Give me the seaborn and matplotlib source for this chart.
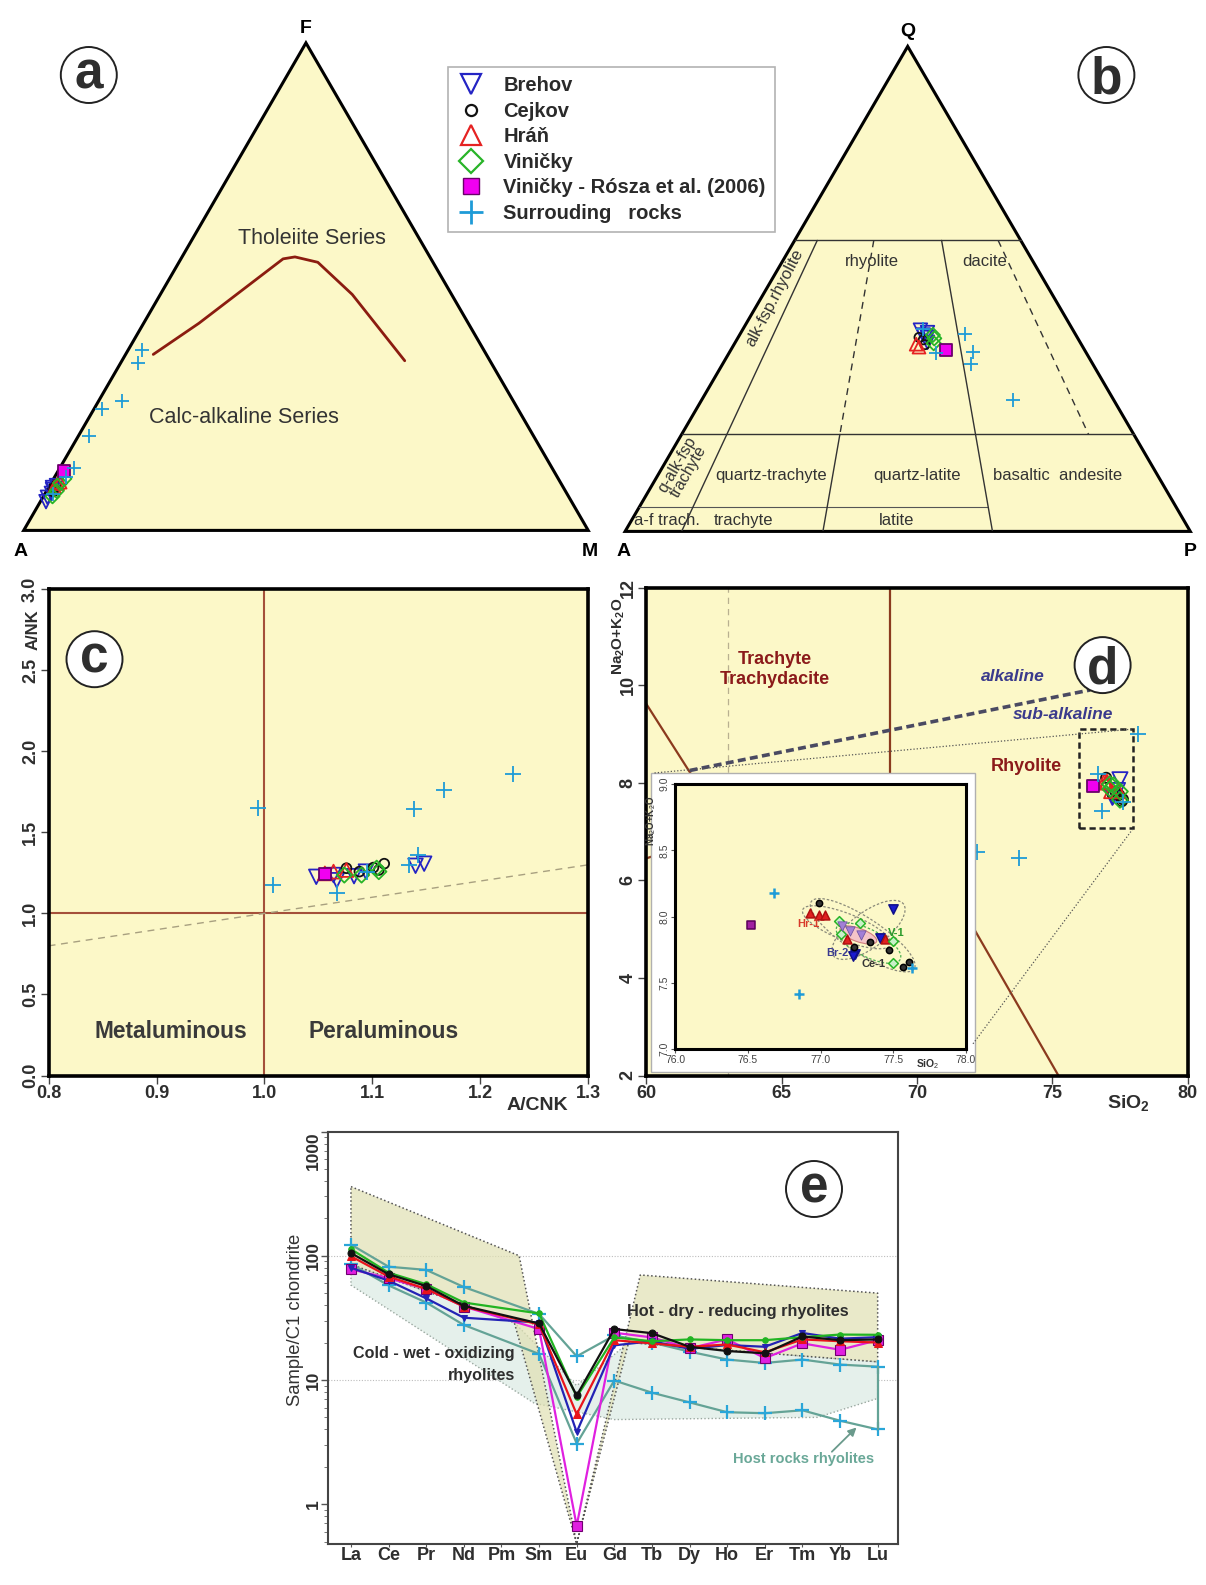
import numpy as np
import matplotlib
matplotlib.use("Agg")
import matplotlib.pyplot as plt
import matplotlib.font_manager as fm
from matplotlib.patches import Polygon, Rectangle, Ellipse
from matplotlib.lines import Line2D
from matplotlib.ticker import LogLocator, NullFormatter, FixedLocator
import seaborn as sns

# ------------------------------------------------------------------ data
groups = ["Brehov", "Cejkov", "Hráň", "Viničky", "Rósza", "Surr"]
legend_labels = ["Brehov", "Cejkov", "Hráň", "Viničky",
                 "Viničky - Rósza et al. (2006)", "Surrouding   rocks"]

# (a) AFM diagram, % : F = FeOt, M = MgO, A = remainder
afm_F = {"Brehov": [5.9, 6.8, 7.6, 8.4, 8.8, 9.2],
         "Cejkov": [7.9, 8.7, 9.4],
         "Hráň": [8.9, 9.6, 9.9],
         "Viničky": [7.0, 8.1, 9.7, 10.6],
         "Rósza": [12.1],
         "Surr": [37.0, 34.4, 26.5, 24.9, 19.3, 12.9, 11.0, 7.5]}
afm_M = {"Brehov": [1.0, 0.8, 1.1, 0.9, 0.7, 1.2],
         "Cejkov": [1.3, 1.0, 1.1],
         "Hráň": [1.0, 1.2, 1.5],
         "Viničky": [1.6, 1.8, 1.6, 1.9],
         "Rósza": [1.1],
         "Surr": [2.5, 3.1, 4.2, 1.4, 1.9, 2.4, 2.0, 1.4]}
tholeiite_F = [36.1, 42.5, 55.7, 56.1, 55.0, 48.4, 34.8]
tholeiite_M = [4.9, 9.8, 18.1, 20.0, 24.6, 34.0, 50.1]

# (b) QAP diagram, % : Q = quartz, P = plagioclase, A = remainder
qap_Q = {"Brehov": [41.5, 40.5, 40.0, 39.0, 41.0],
         "Cejkov": [40.0, 39.5, 38.5],
         "Hráň": [38.0, 38.6],
         "Viničky": [39.8, 38.8, 40.5],
         "Rósza": [37.3],
         "Surr": [41.8, 40.7, 36.9, 34.5, 27.1, 36.7]}
qap_P = {"Brehov": [31.5, 32.5, 33.5, 34.0, 33.0],
         "Cejkov": [32.0, 33.0, 33.8],
         "Hráň": [33.0, 32.2],
         "Viničky": [34.8, 35.2, 34.2],
         "Rósza": [38.2],
         "Surr": [31.8, 39.8, 43.1, 44.0, 55.1, 36.7]}
qap_q_levels = [60, 20]                    # full-width field boundaries
qap_q5_limit = 0.65                        # Q = 5 line ends at this P/(A+P)
# P/(A+P) ratio lines: (ratio, Q from, Q to, dashed?)
qap_ratio_lines = [(0.10, 60, 0, False), (0.35, 60, 20, True),
                   (0.35, 20, 0, False), (0.65, 60, 0, False),
                   (0.90, 60, 20, True)]

# (c) A/CNK vs A/NK
acnk = {"Brehov": [1.048, 1.064, 1.067, 1.083, 1.094, 1.140, 1.148],
        "Cejkov": [1.076, 1.088, 1.101, 1.106, 1.111],
        "Hráň": [1.056, 1.064, 1.076],
        "Viničky": [1.074, 1.090, 1.104, 1.106],
        "Rósza": [1.056],
        "Surr": [0.994, 1.008, 1.067, 1.095, 1.134, 1.139, 1.142, 1.166, 1.230]}
ank = {"Brehov": [1.226, 1.237, 1.205, 1.230, 1.258, 1.294, 1.307],
       "Cejkov": [1.279, 1.258, 1.283, 1.268, 1.307],
       "Hráň": [1.247, 1.258, 1.268],
       "Viničky": [1.237, 1.237, 1.279, 1.258],
       "Rósza": [1.243],
       "Surr": [1.651, 1.177, 1.124, 1.258, 1.300, 1.647, 1.358, 1.761, 1.859]}

# (d) TAS, SiO2 vs Na2O+K2O (wt.%)
tas_si = {"Brehov": [77.50, 77.41, 77.24, 77.22],
          "Cejkov": [76.99, 77.23, 77.34, 77.47, 77.57, 77.61],
          "Hráň": [76.93, 76.99, 77.03, 77.18, 77.44],
          "Viničky": [77.13, 77.27, 77.14, 77.50, 77.50],
          "Rósza": [76.52],
          "Surr": [78.17, 76.68, 76.85, 77.63, 73.76, 72.21]}
tas_alk = {"Brehov": [8.06, 7.84, 7.72, 7.70],
           "Cejkov": [8.10, 7.77, 7.81, 7.75, 7.62, 7.66],
           "Hráň": [8.03, 8.01, 8.01, 7.83, 7.83],
           "Viničky": [7.97, 7.95, 7.87, 7.82, 7.65],
           "Rósza": [7.94],
           "Surr": [8.99, 8.18, 7.42, 7.61, 6.46, 6.58]}
tas_mean_si = [77.15, 77.20, 77.28]
tas_mean_alk = [7.93, 7.89, 7.86]
tas_boundaries = [[(57.6, 11.7), (63.0, 7.0)], [(57.0, 5.9), (63.0, 7.0)],
                  [(63.0, 7.0), (69.0, 8.0)], [(69.0, 8.0), (69.0, 13.0)],
                  [(69.0, 8.0), (77.3, 0.0)]]
alk_line_si = [61.6, 76.4]
alk_line_tot = [8.25, 9.90]
zoom_box = (76.0, 7.07, 78.0, 9.1)        # x0, y0, x1, y1
# group ellipses in the detail plot: cx, cy, width, height, angle, colour
group_ellipses = [(77.29, 7.86, 0.87, 0.26, -36, "#8a8a7a"),
                  (77.18, 7.92, 0.66, 0.20, -24, "#8a8a7a"),
                  (77.33, 7.90, 0.62, 0.26, 40, "#8a8a7a"),
                  (77.33, 7.80, 0.50, 0.20, -30, "#4caf50")]
group_tags = [("Hr-1", 76.92, 7.945, "#d83a2a"), ("Br-2", 77.116, 7.724, "#3a3a90"),
              ("Ce-1", 77.363, 7.643, "#333333"), ("V-1", 77.519, 7.879, "#2a9a2a")]

# (e) chondrite-normalised REE
ree = ["La", "Ce", "Pr", "Nd", "Pm", "Sm", "Eu", "Gd", "Tb", "Dy", "Ho", "Er", "Tm", "Yb", "Lu"]
ree_measured = ["La", "Ce", "Pr", "Nd", "Sm", "Eu", "Gd", "Tb", "Dy", "Ho", "Er", "Tm", "Yb", "Lu"]
ree_cejkov = [105, 71, 57, 39.5, 28.5, 7.5, 25.7, 23.8, 18.5, 17.1, 16.4, 22.4, 20.9, 21.2]
ree_hran = [99, 68, 54, 39, 28, 5.3, 20.9, 19.7, 18.5, 19.3, 16.7, 21.2, 20.5, 20.0]
ree_vinicky = [113, 73, 59, 42, 34.3, 7.3, 22.0, 20.5, 21.2, 20.9, 20.9, 22.1, 23.2, 23.1]
ree_brehov = [80, 63, 45.4, 31.7, 29, 3.8, 19.0, 20.5, 17.8, 19.1, 18.5, 23.9, 21.5, 22.1]
ree_rosza = [77.8, 66, 54, 39, 25.7, 0.67, 24, 22, 18, 21.2, 15, 19.7, 17.5, 20.9]
ree_host_a = [123, 81.6, 76.9, 56, 34, 15.5, 22.8, 20, 16.9, 14.6, 13.7, 14.6, 13.3, 12.8]
ree_host_b = [86, 57.7, 42, 27.7, 16.2, 3.08, 9.9, 7.9, 6.6, 5.5, 5.4, 5.7, 4.7, 4.0]
hot_field_x = [0, 4.47, 6.0, 7.69, 14, 14, 7.38, 6.0, 4.34, 0]
hot_field_y = [360, 100, 0.48, 70, 50, 14, 20, 0.48, 29, 85]
cold_field_x = [0, 4.34, 6.0, 7.38, 14, 14, 12.4, 7.0, 4.87, 0]
cold_field_y = [85, 29, 9, 20, 14, 7.1, 5.0, 4.8, 6.5, 58]

# ------------------------------------------------------------------ style
sns.set_theme(style="white")


def has_font(name):
    try:
        fm.findfont(fm.FontProperties(family=name), fallback_to_default=False)
        return True
    except Exception:
        return False


NARROW = "Liberation Sans Narrow" if has_font("Liberation Sans Narrow") else "Liberation Sans"
NSCALE = 1 / 0.82 if NARROW != "Liberation Sans" else 1.0

plt.rcParams["font.family"] = ["Liberation Sans", "DejaVu Sans"]
plt.rcParams["mathtext.fontset"] = "custom"
plt.rcParams["mathtext.rm"] = "Liberation Sans"
plt.rcParams["mathtext.bf"] = "Liberation Sans:bold"
plt.rcParams["mathtext.it"] = "Liberation Sans:italic"

YELLOW = "#fcf8c8"
TXT = "#2e2e2e"
STYLE = {"Brehov": dict(marker="v", color="#2424c4"),
         "Cejkov": dict(marker="o", color="#111111"),
         "Hráň": dict(marker="^", color="#e52222"),
         "Viničky": dict(marker="D", color="#28b428"),
         "Rósza": dict(marker="s", color="#f000f0"),
         "Surr": dict(marker="+", color="#1e9bd7")}
SIZES = {"Brehov": 1.0, "Cejkov": 0.45, "Hráň": 0.9, "Viničky": 0.55, "Rósza": 0.7, "Surr": 1.2}

W, H = 1206, 1585
fig = plt.figure(figsize=(W / 100, H / 100), dpi=100)
fig.patch.set_facecolor("white")


def box(l, t, r, b):
    return [l / W, 1 - b / H, (r - l) / W, (b - t) / H]


def tern(top, right):
    top = np.asarray(top, float) / 100
    right = np.asarray(right, float) / 100
    return right + top / 2, top


def scatter_group(ax, x, y, g, base, lw=1.3, filled=False, z=5, color=None, edge=None):
    st = STYLE[g]
    col = color or st["color"]
    sns.scatterplot(x=np.asarray(x, float), y=np.asarray(y, float), ax=ax,
                    marker=st["marker"], s=base * SIZES[g], color=col,
                    legend=False, zorder=z)
    coll = ax.collections[-1]
    if st["marker"] == "+":
        coll.set_edgecolor(col)
        coll.set_facecolor(col)
    elif filled or g == "Rósza":
        coll.set_facecolor(col)
        coll.set_edgecolor(edge or ("#6a006a" if g == "Rósza" else col))
    else:
        coll.set_facecolor("none")
        coll.set_edgecolor(col)
    coll.set_linewidth(lw)


def circle_label(cx, cy, letter, r=28, size=37, asc=False):
    fig.add_artist(Ellipse((cx / W, 1 - cy / H), 2 * r / W, 2 * r / H,
                           transform=fig.transFigure, fc="white", ec="#222222",
                           lw=1.4, zorder=20))
    em = size * 100 / 72
    off = 0.36 if asc else 0.265
    fig.text(cx / W, 1 - (cy + off * em) / H, letter, ha="center", va="baseline",
             fontsize=size, fontweight="bold", color=TXT, zorder=21)


# ------------------------------------------------------------------ (a) AFM
ax_a = fig.add_axes(box(23.7, 42.9, 588.2, 530.4))
ax_a.set_xlim(0, 1)
ax_a.set_ylim(0, 1)
ax_a.axis("off")
ax_a.add_patch(Polygon([(0, 0), (1, 0), (0.5, 1)], closed=True, fc=YELLOW,
                       ec="black", lw=2.2, zorder=1, clip_on=False))
tx, ty = tern(tholeiite_F, tholeiite_M)
sns.lineplot(x=tx, y=ty, ax=ax_a, color="#8b1c10", lw=2.0, sort=False,
             estimator=None, zorder=3, legend=False)
for g in groups:
    X, Y = tern(afm_F[g], afm_M[g])
    scatter_group(ax_a, X, Y, g, base=95)
ax_a.text(0.5, 1.03, "F", ha="center", va="center", fontsize=14, fontweight="bold", color="black")
ax_a.text(-0.005, -0.044, "A", ha="center", va="center", fontsize=14, fontweight="bold", color="black")
ax_a.text(1.002, -0.044, "M", ha="center", va="center", fontsize=14, fontweight="bold", color="black")
ax_a.text(0.5105, 0.5986, "Tholeiite Series", ha="center", va="center", fontsize=15.5, color="#333333")
ax_a.text(0.39, 0.2308, "Calc-alkaline Series", ha="center", va="center", fontsize=15.5, color="#333333")

# ------------------------------------------------------------------ (b) QAP
ax_b = fig.add_axes(box(625.1, 46.4, 1190.3, 531.4))
ax_b.set_xlim(0, 1)
ax_b.set_ylim(0, 1)
ax_b.axis("off")
ax_b.add_patch(Polygon([(0, 0), (1, 0), (0.5, 1)], closed=True, fc=YELLOW,
                       ec="black", lw=2.2, zorder=1, clip_on=False))
for q in qap_q_levels:
    X, Y = tern([q, q], [0, 100 - q])
    ax_b.plot(X, Y, color="#333333", lw=1.0, zorder=2)
X, Y = tern([5, 5], [0, 95 * qap_q5_limit])
ax_b.plot(X, Y, color="#555555", lw=0.8, zorder=2)
for r, q1, q2, dashed in qap_ratio_lines:
    qs = np.array([q1, q2], float)
    X, Y = tern(qs, (100 - qs) * r)
    ax_b.plot(X, Y, color="#333333", lw=1.0, ls=(0, (5, 4)) if dashed else "-", zorder=2)
for g in groups:
    X, Y = tern(qap_Q[g], qap_P[g])
    scatter_group(ax_b, X, Y, g, base=95)
ax_b.text(0.5, 1.03, "Q", ha="center", va="center", fontsize=14, fontweight="bold", color="black")
ax_b.text(-0.002, -0.042, "A", ha="center", va="center", fontsize=14, fontweight="bold", color="black")
ax_b.text(1.0, -0.042, "P", ha="center", va="center", fontsize=14, fontweight="bold", color="black")
for s, x, y, rot in [("rhyolite", 0.4358, 0.5567, 0), ("dacite", 0.636, 0.5567, 0),
                     ("alk-fsp.rhyolite", 0.2647, 0.4808, 62.5),
                     ("quartz-trachyte", 0.258, 0.1148, 0), ("quartz-latite", 0.5165, 0.1148, 0),
                     ("basaltic  andesite", 0.766, 0.1148, 0), ("a-f trach.", 0.0745, 0.022, 0),
                     ("trachyte", 0.2086, 0.022, 0), ("latite", 0.4809, 0.022, 0)]:
    ax_b.text(x, y, s, ha="center", va="center", rotation=rot, fontsize=12, color="#333333", zorder=3)
ax_b.text(0.1026, 0.1309, "q-alk-fsp\ntrachyte", ha="center", va="center", rotation=60,
          fontsize=11.5, color="#333333", linespacing=0.85, zorder=3)

# ------------------------------------------------------------------ legend
LFS = 14.5 * NSCALE
lpx = LFS * 100 / 72
handles = []
for g in groups:
    st = STYLE[g]
    if st["marker"] == "+":
        h = Line2D([], [], ls="none", marker="+", markersize=17, mew=2.0, color=st["color"])
    elif g == "Rósza":
        h = Line2D([], [], ls="none", marker="s", markersize=12, mfc=st["color"], mec="#6a006a", mew=1.0)
    else:
        ms = {"Brehov": 14, "Cejkov": 8, "Hráň": 14, "Viničky": 12}[g]
        h = Line2D([], [], ls="none", marker=st["marker"], markersize=ms, mfc="none",
                   mec=st["color"], mew=1.6)
    handles.append(h)


def make_legend(spacing, pad):
    lg = fig.legend(handles, legend_labels, loc="upper left",
                    bbox_to_anchor=(448 / W, 1 - 67 / H), bbox_transform=fig.transFigure,
                    prop=fm.FontProperties(family=NARROW, weight="bold", size=LFS),
                    labelcolor="#2a2a2a", frameon=True, fancybox=False, edgecolor="#a0a0a0",
                    borderpad=pad, handlelength=29.0 / lpx, handletextpad=17.5 / lpx,
                    labelspacing=spacing, borderaxespad=0)
    lg.get_frame().set_linewidth(1.2)
    return lg


# rows 25.6 px apart, first row centred 18.5 px below the frame top
pad0 = 7.0 / lpx
leg = make_legend(0.0, pad0)
fig.canvas.draw()
rend = fig.canvas.get_renderer()
ext = [t.get_window_extent(rend) for t in leg.get_texts()]
pitch = ((ext[0].y0 + ext[0].y1) - (ext[-1].y0 + ext[-1].y1)) / 2 / (len(ext) - 1)
spacing = max(0.0, (25.6 - pitch) / lpx)
top_off = leg.get_window_extent(rend).y1 - (ext[0].y0 + ext[0].y1) / 2
pad1 = max(0.05, pad0 + (18.5 - top_off) / lpx)
leg.remove()
leg = make_legend(spacing, pad1)

# ------------------------------------------------------------------ (c) Shand
ax_c = fig.add_axes(box(48.6, 589.3, 588.2, 1075.5))
ax_c.set_facecolor(YELLOW)
ax_c.set_xlim(0.8, 1.3)
ax_c.set_ylim(0, 3.0)
ax_c.axvline(1.0, color="#a4503a", lw=1.5, zorder=2)
ax_c.axhline(1.0, color="#a4503a", lw=1.5, zorder=2)
ax_c.plot([0.8, 1.3], [0.8, 1.3], color="#a8a080", lw=1.0, ls=(0, (5, 4)), zorder=2)
for g in groups:
    scatter_group(ax_c, acnk[g], ank[g], g, base=110)
ax_c.text(0.9128, 0.27, "Metaluminous", ha="center", va="center", fontsize=16.4,
          fontweight="bold", color="#3a3a3a")
ax_c.text(1.1107, 0.27, "Peraluminous", ha="center", va="center", fontsize=16.4,
          fontweight="bold", color="#3a3a3a")
ax_c.set_xticks([0.8, 0.9, 1.0, 1.1, 1.2, 1.3])
ax_c.set_xticklabels(["0.8", "0.9", "1.0", "1.1", "1.2", "1.3"])
ax_c.set_yticks([0, 0.5, 1.0, 1.5, 2.0, 2.5, 3.0])
ax_c.set_yticklabels(["0.0", "0.5", "1.0", "1.5", "2.0", "2.5", "3.0"], rotation=90, va="center")
for sp in ax_c.spines.values():
    sp.set_color("black")
    sp.set_linewidth(2.6)
ax_c.tick_params(axis="both", which="major", direction="out", length=6, width=1.0,
                 color="#444444", labelsize=13, labelcolor=TXT, pad=1,
                 bottom=True, left=True)
for lab in ax_c.get_xticklabels() + ax_c.get_yticklabels():
    lab.set_fontweight("bold")
fig.text(33 / W, 1 - 630 / H, "A/NK", rotation=90, ha="center", va="center",
         fontsize=12, fontweight="bold", color=TXT)
fig.text(537.7 / W, 1 - 1105 / H, "A/CNK", ha="center", va="center",
         fontsize=14, fontweight="bold", color=TXT)

# ------------------------------------------------------------------ (d) TAS
ax_d = fig.add_axes(box(646.4, 587.5, 1187.6, 1075.5))
ax_d.set_facecolor(YELLOW)
ax_d.set_xlim(60, 80)
ax_d.set_ylim(2, 12)
ax_d.axvline(63.0, color="#b8b090", lw=0.9, ls=(0, (5, 4)), zorder=1)
for seg in tas_boundaries:
    (x0, y0), (x1, y1) = seg
    ax_d.plot([x0, x1], [y0, y1], color="#8b3a1e", lw=1.6, zorder=2)
ax_d.plot(alk_line_si, alk_line_tot, color="#4a4a62", lw=2.6, ls=(0, (2.2, 1.2)), zorder=3)
zx0, zy0, zx1, zy1 = zoom_box
ax_d.add_patch(Rectangle((zx0, zy0), zx1 - zx0, zy1 - zy0, fc="none", ec="#222222",
                         lw=1.8, ls=(0, (2.5, 1.5)), zorder=4))
for g in groups:
    scatter_group(ax_d, tas_si[g], tas_alk[g], g, base=120)
ax_d.text(64.74, 10.52, "Trachyte", ha="center", va="center", fontsize=13,
          fontweight="bold", color="#8b1a1a")
ax_d.text(64.74, 10.12, "Trachydacite", ha="center", va="center", fontsize=13,
          fontweight="bold", color="#8b1a1a")
ax_d.text(74.04, 8.33, "Rhyolite", ha="center", va="center", fontsize=13,
          fontweight="bold", color="#8b1a1a")
ax_d.text(73.54, 10.17, "alkaline", ha="center", va="center", fontsize=12.5,
          fontweight="bold", fontstyle="italic", color="#3a3a8c")
ax_d.text(75.39, 9.39, "sub-alkaline", ha="center", va="center", fontsize=12.5,
          fontweight="bold", fontstyle="italic", color="#3a3a8c")
# white panel holding the detail plot
ax_d.add_patch(Rectangle((60.17, 2.08), 11.97, 6.11, fc="white", ec="#b0b0b0", lw=1.0, zorder=8))
for (xa, ya), (xb, yb) in [((60.3, 8.2), (zx1, zy1)), ((72.07, 2.65), (zx1, zy0))]:
    ax_d.plot([xa, xb], [ya, yb], color="#555555", lw=0.9, ls=(0, (1, 1.6)), zorder=9)
ax_d.set_xticks([60, 65, 70, 75, 80])
ax_d.set_xticklabels(["60", "65", "70", "75", "80"])
ax_d.set_yticks([2, 4, 6, 8, 10, 12])
ax_d.set_yticklabels(["2", "4", "6", "8", "10", "12"], rotation=90, va="center")
for sp in ax_d.spines.values():
    sp.set_color("black")
    sp.set_linewidth(2.6)
ax_d.tick_params(axis="both", which="major", direction="out", length=6, width=1.0,
                 color="#444444", labelsize=13, labelcolor=TXT, pad=1,
                 bottom=True, left=True)
for lab in ax_d.get_xticklabels() + ax_d.get_yticklabels():
    lab.set_fontweight("bold")
fig.text(619 / W, 1 - 636 / H, r"Na$_{\mathbf{2}}$O+K$_{\mathbf{2}}$O", rotation=90,
         ha="center", va="center", fontsize=11, fontweight="bold", color=TXT)
fig.text(1128 / W, 1 - 1103 / H, r"SiO$_{\mathbf{2}}$", ha="center", va="center",
         fontsize=14, fontweight="bold", color=TXT)

# detail of the rhyolite cluster
ax_in = fig.add_axes(box(675, 784, 966, 1049.3))
ax_in.set_zorder(ax_d.get_zorder() + 1)
ax_in.set_facecolor(YELLOW)
ax_in.set_xlim(76, 78)
ax_in.set_ylim(7, 9)
ax_in.add_patch(Ellipse((77.26, 7.862), 0.27, 0.10, angle=-22, fc="#f4c4c8", ec="#d08080",
                        lw=0.8, zorder=2))
for cx, cy, w_, h_, ang, col in group_ellipses:
    ax_in.add_patch(Ellipse((cx, cy), w_, h_, angle=ang, fc="none", ec=col, lw=0.9,
                            ls=(0, (2, 1.5)), zorder=3))
inset_fill = {"Brehov": "#1a1ad0", "Cejkov": "#333333", "Hráň": "#e02020",
              "Viničky": "#c8f0c8", "Rósza": "#a020a0", "Surr": "#1e9bd7"}
inset_edge = {"Brehov": "#10108a", "Cejkov": "#000000", "Hráň": "#b01010",
              "Viničky": "#28b428", "Rósza": "#5a005a", "Surr": "#1e9bd7"}
for g in groups:
    scatter_group(ax_in, tas_si[g], tas_alk[g], g, base=45, lw=1.1 if g != "Surr" else 1.8,
                  filled=True, color=inset_fill[g], edge=inset_edge[g], z=5)
sns.scatterplot(x=tas_mean_si, y=tas_mean_alk, ax=ax_in, marker="v", s=45, color="#a27fd6",
                legend=False, zorder=6)
ax_in.collections[-1].set_edgecolor("#6a4fa0")
for s, x, y, col in group_tags:
    ax_in.text(x, y, s, ha="center", va="center", fontsize=8, fontweight="bold", color=col, zorder=7)
ax_in.set_xticks([76.0, 76.5, 77.0, 77.5, 78.0])
ax_in.set_xticklabels(["76.0", "76.5", "77.0", "77.5", "78.0"])
ax_in.set_yticks([7.0, 7.5, 8.0, 8.5, 9.0])
ax_in.set_yticklabels(["7.0", "7.5", "8.0", "8.5", "9.0"], rotation=90, va="center")
for sp in ax_in.spines.values():
    sp.set_color("black")
    sp.set_linewidth(2.2)
ax_in.tick_params(axis="both", direction="out", length=3, width=0.8, color="#555555",
                  labelsize=7.5, labelcolor="#444444", pad=1, bottom=True, left=True)
ax_in.text(0.869, -0.055, r"SiO$_2$", transform=ax_in.transAxes, ha="center", va="center",
           fontsize=7.5, fontweight="bold", color="#333333")
ax_in.text(-0.082, 0.86, r"Na$_2$O+K$_2$O", transform=ax_in.transAxes, rotation=90,
           ha="center", va="center", fontsize=7, fontweight="bold", color="#333333")

# ------------------------------------------------------------------ (e) REE
ax_e = fig.add_axes(box(328.4, 1131.5, 897.6, 1543.8))
ax_e.set_facecolor("white")
ax_e.set_yscale("log")
ax_e.set_xlim(-0.6, 14.53)
ax_e.set_ylim(0.48, 1000)
ree_pos = [ree.index(e) for e in ree_measured]
for yv in (10, 100):
    ax_e.axhline(yv, color="#bdbdbd", lw=0.8, ls=(0, (1, 1.5)), zorder=0.5)
ax_e.fill(cold_field_x, cold_field_y, fc="#e5f0eb", ec="#9aa8a0", lw=1.0,
          ls=(0, (1, 1.6)), zorder=1)
ax_e.fill(hot_field_x, hot_field_y, fc="#e0e0b2", alpha=0.7, ec="none", zorder=1.2)
ax_e.plot(hot_field_x + hot_field_x[:1], hot_field_y + hot_field_y[:1], color="#555555",
          lw=1.1, ls=(0, (1, 1.6)), zorder=1.3)


def ree_line(vals, color, lw=1.6, z=4, **mk):
    sns.lineplot(x=ree_pos, y=vals, ax=ax_e, color=color, lw=lw, zorder=z,
                 legend=False, estimator=None, **mk)


host_mk = dict(marker="+", markersize=10, mew=1.6, mec="#2aa6d8", mfc="#2aa6d8")
ree_line(ree_host_b, "#64a396", **host_mk)
ree_line(ree_host_a, "#64a396", **host_mk)
ax_e.plot([ree_pos[-1], ree_pos[-1]], [ree_host_b[-1], ree_host_a[-1]], color="#64a396",
          lw=1.6, zorder=4)
ree_line(ree_rosza, "#e020e0", z=5, marker="s", markersize=7, mfc="#e020e0", mec="#700070", mew=0.8)
ree_line(ree_brehov, "#2323b5", z=6, marker="v", markersize=4, mfc="#2323b5", mec="#2323b5")
ree_line(ree_hran, "#e8141b", z=7, marker="^", markersize=6, mfc="#e8141b", mec="#e8141b")
ree_line(ree_vinicky, "#22b422", z=8, marker="o", markersize=4, mfc="#22b422", mec="#22b422")
ree_line(ree_cejkov, "#111111", z=9, marker="o", markersize=5, mfc="#111111", mec="#111111")

ax_e.text(7.34, 35.7, "Hot - dry - reducing rhyolites", ha="left", va="center",
          fontsize=11.7 * NSCALE, fontweight="bold", family=NARROW, color="#2e2e2e", zorder=10)
ax_e.text(4.36, 16.4, "Cold - wet - oxidizing", ha="right", va="center",
          fontsize=11.6 * NSCALE, fontweight="bold", family=NARROW, color="#2e2e2e", zorder=10)
ax_e.text(4.36, 10.8, "rhyolites", ha="right", va="center",
          fontsize=11.6 * NSCALE, fontweight="bold", family=NARROW, color="#2e2e2e", zorder=10)
ax_e.text(12.03, 2.32, "Host rocks rhyolites", ha="center", va="center",
          fontsize=10.5 * NSCALE, fontweight="bold", family=NARROW, color="#6aa898", zorder=10)
ax_e.annotate("", xy=(13.49, 4.3), xytext=(12.73, 2.55),
              arrowprops=dict(arrowstyle="-|>", color="#6a9a8c", lw=1.3, mutation_scale=12),
              zorder=10)

ax_e.set_xticks(range(len(ree)))
ax_e.set_xticklabels(ree)
ax_e.yaxis.set_major_locator(FixedLocator([1, 10, 100, 1000]))
ax_e.yaxis.set_minor_locator(LogLocator(base=10, subs=np.arange(2, 10)))
ax_e.yaxis.set_minor_formatter(NullFormatter())
ax_e.set_yticklabels(["1", "10", "100", "1000"], rotation=90, va="center")
ax_e.get_yticklabels()[-1].set_va("top")
for sp in ax_e.spines.values():
    sp.set_color("#444444")
    sp.set_linewidth(1.5)
ax_e.tick_params(axis="y", which="major", direction="out", length=5, width=1.0,
                 color="#555555", labelsize=12.5, labelcolor=TXT, pad=0.5, left=True)
ax_e.tick_params(axis="y", which="minor", direction="out", length=3, width=0.7,
                 color="#777777", left=True)
ax_e.tick_params(axis="x", which="major", direction="out", length=2, width=0.8,
                 color="#555555", labelcolor=TXT, pad=0.5, bottom=True)
for lab in ax_e.get_xticklabels():
    lab.set_fontweight("bold")
    lab.set_family(NARROW)
    lab.set_fontsize(13 * NSCALE if NSCALE == 1.0 else 14)
for lab in ax_e.get_yticklabels():
    lab.set_fontweight("bold")
fig.text(295.2 / W, 1 - 1320 / H, "Sample/C1 chondrite", rotation=90, ha="center",
         va="center", fontsize=13.3, color="#333333")

# ------------------------------------------------------------------ panel tags
circle_label(88.8, 75, "a")
circle_label(1106.4, 75, "b", asc=True)
circle_label(94.5, 659.2, "c")
circle_label(1102.6, 665.1, "d", asc=True)
circle_label(814, 1189, "e")

fig.savefig("out.png", dpi=100, facecolor="white")
